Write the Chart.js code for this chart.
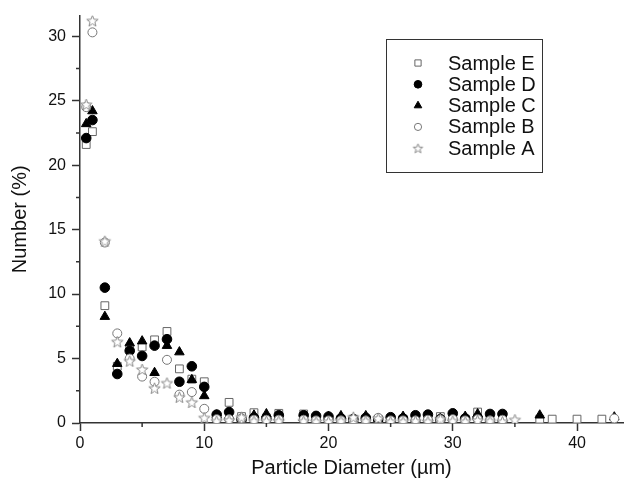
<!DOCTYPE html>
<html>
<head>
<meta charset="utf-8">
<script src="https://cdn.jsdelivr.net/npm/chart.js@4.4.1/dist/chart.umd.min.js"></script>
<style>
  html, body { margin: 0; padding: 0; background: #fff; }
  #wrap { width: 630px; height: 482px; }
</style>
</head>
<body>
<div id="wrap"><canvas id="chart"></canvas></div>
<script>
// particle diameter (um) shared by all samples
const DIAMETERS = [0.5, 1, 2, 3, 4, 5, 6, 7, 8, 9, 10, 11, 12, 13, 14, 15, 16, 18, 19, 20,
                   21, 22, 23, 24, 25, 26, 27, 28, 29, 30, 31, 32, 33, 34, 35, 37, 38, 40, 42, 43];

// number (%) for each sample, null where the sample has no point
const SAMPLE_E = [21.6, 22.6, 9.1, 4.4, 5.8, 5.9, 6.45, 7.1, 4.2, 3.4, 3.2, 0.4, 1.6, 0.5, 0.8, 0.4, 0.75, 0.7, 0.3, 0.3,
                  0.3, 0.3, 0.3, 0.3, 0.25, 0.3, 0.3, 0.3, 0.5, 0.3, 0.3, 0.85, 0.3, 0.3, null, 0.3, 0.3, 0.3, 0.3, null];
const SAMPLE_D = [22.1, 23.5, 10.5, 3.8, 5.6, 5.2, 6.0, 6.5, 3.2, 4.4, 2.8, 0.65, 0.85, 0.3, 0.4, 0.35, 0.6, 0.6, 0.55, 0.5,
                  0.35, 0.3, 0.4, 0.3, 0.45, 0.35, 0.6, 0.65, 0.3, 0.75, 0.35, 0.4, 0.7, 0.7, null, null, null, null, null, null];
const SAMPLE_C = [23.2, 24.2, 8.25, 4.6, 6.2, 6.35, 3.9, 6.0, 5.5, 3.35, 2.1, 0.6, 0.55, 0.35, 0.6, 0.7, 0.45, 0.4, 0.4, 0.5,
                  0.55, 0.3, 0.55, 0.35, 0.3, 0.5, 0.35, 0.4, 0.35, 0.4, 0.5, 0.7, 0.35, 0.35, null, 0.6, null, null, null, 0.45];
const SAMPLE_B = [24.5, 30.3, 14.0, 6.95, 5.0, 3.6, 3.2, 4.9, 2.2, 2.4, 1.1, 0.3, 0.3, 0.35, 0.25, 0.25, 0.25, 0.25, 0.2, 0.2,
                  0.2, 0.2, 0.2, 0.4, 0.2, 0.2, 0.2, 0.25, 0.25, 0.3, 0.2, 0.3, 0.2, 0.25, null, null, null, null, null, 0.35];
const SAMPLE_A = [24.7, 31.2, 14.1, 6.3, 4.8, 4.15, 2.7, 3.1, 2.0, 1.6, 0.4, 0.15, 0.2, 0.45, 0.15, 0.15, 0.15, 0.15, 0.1, 0.1,
                  0.15, 0.45, 0.15, 0.35, 0.1, 0.1, 0.15, 0.1, 0.3, 0.15, 0.1, 0.2, 0.15, 0.1, 0.25, null, null, null, null, null];

const X_TICKS = [0, 10, 20, 30, 40];
const Y_TICKS = [0, 5, 10, 15, 20, 25, 30];

function points(ys) {
  return DIAMETERS.map((x, i) => ({ x: x, y: ys[i] })).filter(p => p.y !== null);
}

// open five-point star marker
function makeStar(r) {
  const size = Math.ceil(r * 2 + 3);
  const cv = document.createElement('canvas');
  cv.width = size; cv.height = size;
  const c = cv.getContext('2d');
  const cx = size / 2, cy = size / 2 + 0.5;
  c.beginPath();
  for (let i = 0; i < 10; i++) {
    const rad = i % 2 === 0 ? r : r * 0.42;
    const a = -Math.PI / 2 + i * Math.PI / 5;
    const px = cx + Math.cos(a) * rad, py = cy + Math.sin(a) * rad;
    if (i === 0) c.moveTo(px, py); else c.lineTo(px, py);
  }
  c.closePath();
  c.fillStyle = '#fff';
  c.fill();
  c.strokeStyle = '#8a8a8a';
  c.lineWidth = 1;
  c.stroke();
  return cv;
}
const STAR = makeStar(6);
const STAR_SMALL = makeStar(5);

// A drawn last (on top), legend reversed to read E..A
const datasets = [
  { label: 'Sample A', data: points(SAMPLE_A), pointStyle: STAR, pointRadius: 6,
    backgroundColor: '#fff', borderColor: '#8a8a8a', legendStyle: STAR_SMALL },
  { label: 'Sample B', data: points(SAMPLE_B), pointStyle: 'circle', pointRadius: 4.5,
    backgroundColor: '#fff', borderColor: '#777', borderWidth: 1 },
  { label: 'Sample C', data: points(SAMPLE_C), pointStyle: 'triangle', pointRadius: 5.5,
    backgroundColor: '#000', borderColor: '#000', borderWidth: 1 },
  { label: 'Sample D', data: points(SAMPLE_D), pointStyle: 'circle', pointRadius: 4.8,
    backgroundColor: '#000', borderColor: '#000', borderWidth: 1 },
  { label: 'Sample E', data: points(SAMPLE_E), pointStyle: 'rect', pointRadius: 5.5,
    backgroundColor: '#fff', borderColor: '#666', borderWidth: 1 }
];

const FONT = '"Liberation Sans", Arial, sans-serif';

const extras = {
  id: 'extras',
  afterDraw(chart) {
    const ctx = chart.ctx;
    const xs = chart.scales.x, ys = chart.scales.y;
    const area = chart.chartArea;
    ctx.save();
    // minor ticks
    ctx.strokeStyle = '#333';
    ctx.lineWidth = 1.5;
    ctx.beginPath();
    [5, 15, 25, 35].forEach(v => {
      const px = xs.getPixelForValue(v);
      ctx.moveTo(px, area.bottom);
      ctx.lineTo(px, area.bottom + 4);
    });
    [2.5, 7.5, 12.5, 17.5, 22.5, 27.5].forEach(v => {
      const py = ys.getPixelForValue(v);
      ctx.moveTo(area.left, py);
      ctx.lineTo(area.left - 4, py);
    });
    ctx.stroke();

    // legend box
    const bx = 386, by = 39, bw = 156, bh = 133;
    ctx.lineWidth = 1;
    ctx.strokeStyle = '#333';
    ctx.strokeRect(bx + 0.5, by + 0.5, bw, bh);
    ctx.font = '20px ' + FONT;
    ctx.textBaseline = 'middle';
    ctx.fillStyle = '#111';
    const order = chart.data.datasets.slice().reverse();
    order.forEach((ds, i) => {
      const y = by + 24 + i * 21.3;
      ctx.save();
      ctx.fillStyle = ds.backgroundColor;
      ctx.strokeStyle = ds.borderColor;
      ctx.lineWidth = 1;
      Chart.helpers.drawPoint(ctx, {
        pointStyle: ds.legendStyle || ds.pointStyle,
        radius: ds.pointRadius * 0.8,
        rotation: 0,
        borderWidth: 1
      }, bx + 32, y);
      ctx.restore();
      ctx.fillText(ds.label, bx + 62, y + 1);
    });
    ctx.restore();
  }
};

new Chart(document.getElementById('chart'), {
  type: 'scatter',
  data: { datasets: datasets },
  options: {
    responsive: true,
    maintainAspectRatio: false,
    animation: false,
    layout: { padding: { top: 14, left: 0, right: 0, bottom: 0 } },
    plugins: {
      legend: { display: false },
      tooltip: { enabled: false }
    },
    scales: {
      x: {
        type: 'linear',
        min: 0,
        max: 43.7,
        afterFit: s => { s.height = 59; },
        afterBuildTicks: s => { s.ticks = X_TICKS.map(v => ({ value: v })); },
        border: { display: true, color: '#333', width: 1.5 },
        grid: { drawOnChartArea: false, drawTicks: true, tickLength: 8, tickColor: '#333', tickWidth: 1.5 },
        ticks: { color: '#111', padding: 3, font: { family: FONT, size: 16 } },
        title: { display: true, text: 'Particle Diameter (µm)', color: '#111',
                 font: { family: FONT, size: 20 }, padding: { top: 0, bottom: 2 } }
      },
      y: {
        type: 'linear',
        min: 0,
        max: 31.6,
        afterFit: s => { s.width = 80; },
        afterBuildTicks: s => { s.ticks = Y_TICKS.map(v => ({ value: v })); },
        border: { display: true, color: '#333', width: 1.5 },
        grid: { drawOnChartArea: false, drawTicks: true, tickLength: 8, tickColor: '#333', tickWidth: 1.5 },
        ticks: { color: '#111', padding: 6, font: { family: FONT, size: 16 } },
        title: { display: true, text: 'Number (%)', color: '#111',
                 font: { family: FONT, size: 20 }, padding: { top: 8, bottom: 0 } }
      }
    }
  },
  plugins: [extras]
});
</script>
</body>
</html>
